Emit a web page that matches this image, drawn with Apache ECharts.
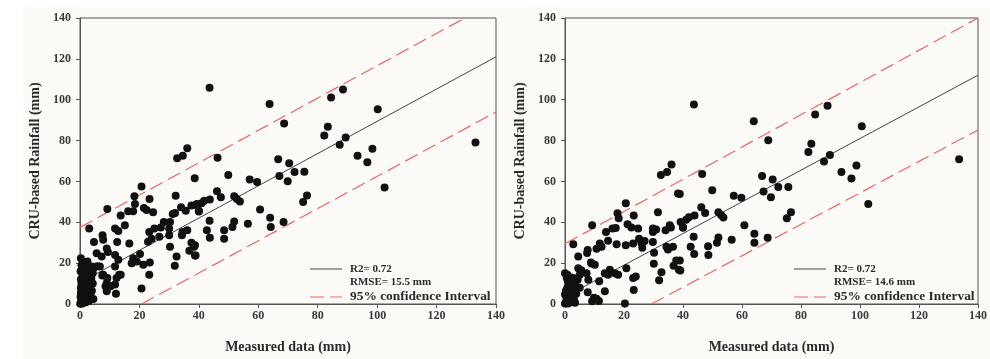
<!DOCTYPE html>
<html>
<head>
<meta charset="utf-8">
<script src="https://cdn.jsdelivr.net/npm/echarts@6/dist/echarts.min.js"></script>
<style>
  html, body { margin: 0; padding: 0; background: #fff; }
  #chart { width: 990px; height: 359px; }
</style>
</head>
<body>
<div id="chart"></div>
<script>
// measured vs CRU-based rainfall, two panels
const axisMin = 0, axisMax = 140, axisStep = 20;
const xTitle = "Measured data (mm)";
const yTitle = "CRU-based Rainfall (mm)";

const leftPoints = [
  [43.6,105.8],[63.8,97.9],[68.7,88.4],[88.5,105.0],[84.5,101.1],[100.2,95.3],[83.4,86.8],[82.2,82.5],
  [89.4,81.5],[87.4,77.9],[133.1,79.1],[98.4,76.0],[93.4,72.6],[96.7,69.4],[102.5,57.0],
  [32.7,71.3],[34.6,72.6],[36.1,76.3],[46.3,71.6],[38.6,61.5],[66.7,70.9],[70.4,68.9],[49.9,63.1],
  [72.2,64.6],[75.5,64.7],[67.1,62.6],[57.1,60.9],[59.6,59.7],[69.9,60.1],[46.1,55.2],[47.4,52.3],
  [51.9,52.8],[52.8,51.4],[53.8,50.2],[43.7,51.1],[41.8,50.6],[40.9,49.3],[39.2,48.3],[40.0,45.3],
  [76.4,53.1],[75.1,49.9],[60.6,46.2],[43.6,40.7],[64.0,42.2],[68.5,40.1],[51.9,40.4],[51.3,37.7],
  [56.5,39.3],[42.7,36.1],[48.5,36.1],[64.2,37.7],[43.7,32.4],[48.5,31.9],[38.7,28.8],[38.9,23.8],
  [20.7,57.5],[18.3,52.7],[23.4,51.4],[18.5,48.9],[21.5,47.0],[22.4,46.0],[16.2,45.4],[17.9,45.4],
  [24.6,44.9],[9.2,46.5],[13.7,43.3],[15.1,38.5],[3.1,36.9],[11.8,36.9],[12.9,35.7],[7.6,33.7],
  [7.8,31.5],[16.6,29.6],[12.5,30.4],[9.0,27.2],[9.4,25.5],[4.7,30.4],[5.6,24.8],[7.3,23.2],
  [11.8,24.0],[12.9,21.6],[17.9,22.4],[19.1,20.8],[17.4,20.0],[20.2,24.5],[21.3,19.2],[0.3,22.4],
  [2.5,20.8],[3.9,18.4],[6.7,18.4],[4.3,15.1],[7.8,14.3],[11.8,18.4],[12.3,12.7],[13.2,14.3],
  [9.0,10.3],[9.0,6.3],[11.8,9.5],[12.1,5.0],[20.7,7.6],[23.5,20.3],[23.3,14.3],
  [25.0,36.9],[28.2,40.1],[27.2,37.5],[26.7,32.9],[23.3,35.3],[24.1,32.0],[22.9,30.5],[30.3,40.1],
  [30.0,36.9],[31.2,44.1],[32.0,44.5],[30.3,28.0],[30.0,33.7],[32.2,53.0],[32.5,23.2],[31.9,18.7],
  [34.0,47.3],[34.5,35.3],[34.3,33.6],[35.6,45.7],[36.1,36.1],[37.5,48.2],[38.4,28.0],[37.5,30.0],
  [36.8,26.1],[38.7,23.7],[39.3,48.9],[40.0,45.7],
  [0.5,19],[0.2,16],[0.8,13.5],[0.3,12],[1,11],[1.5,12.5],[0.5,10],[1.2,9],[0.3,8],[2,8.5],
  [0.8,7],[1.5,6],[0.3,5.5],[2.5,6],[1,4.5],[0.2,3.5],[1.8,3.5],[0.6,2.5],[2.5,3],[1.2,1.5],
  [0.3,1],[0.8,0.3],[2,0.8],[3,1.5],[3.5,4.5],[4,6.5],[3,9.5],[2.5,11],[3.8,12.5],[2.8,14],
  [4.3,10],[3.5,17],[1.8,17.5],[2.2,20],[4.5,2.5],[1.5,15],[0.9,18],[3.2,7.5],[0.1,0.1],
  [5.8,18.5],[7.5,13.9],[9.2,12.7],[8.6,8.7],[10.3,8.7],[13.7,14.3],[4.5,17.5]
];

const rightPoints = [
  [43.7,97.7],[64.0,89.5],[68.9,80.2],[89.0,97.0],[84.8,92.8],[100.6,87.0],[83.5,78.4],[82.5,74.4],
  [89.8,72.9],[87.8,69.7],[133.6,70.9],[98.8,67.8],[93.7,64.6],[97.1,61.4],[102.8,48.9],
  [32.5,63.1],[34.6,64.6],[36.1,68.3],[46.5,63.6],[38.9,53.8],[66.8,62.6],[70.4,61.0],[49.9,55.7],
  [72.3,57.3],[75.7,57.3],[67.3,55.1],[57.2,53.0],[59.8,52.0],[69.8,52.2],[46.2,47.3],[47.5,44.6],
  [52.0,44.9],[52.9,43.6],[53.7,42.3],[43.9,43.3],[42.0,42.5],[41.1,41.2],[39.2,40.1],[40.0,37.3],
  [76.6,44.9],[75.2,42.0],[60.8,38.5],[43.6,32.9],[64.2,34.4],[68.7,32.4],[52.0,32.5],[51.5,30.0],
  [56.5,31.4],[42.6,28.0],[48.5,28.3],[64.2,30.0],[43.8,24.5],[48.6,24.0],[38.9,21.3],[39.1,16.4],
  [20.6,49.3],[17.8,44.4],[9.2,38.5],[23.3,43.3],[18.2,42.0],[21.2,39.0],[22.5,37.5],[24.8,36.9],
  [13.9,35.3],[16.1,36.9],[17.2,37.2],[2.8,29.3],[11.8,29.6],[12.4,28.0],[10.7,27.0],[14.6,31.0],
  [7.7,26.4],[7.5,25.0],[4.5,23.2],[17.5,29.3],[20.6,28.8],[23.1,29.6],[25.1,32.0],[27.0,30.9],
  [25.9,30.0],[26.2,27.5],[29.8,30.4],[29.8,35.3],[30.9,36.5],[31.5,44.9],[29.8,37.0],[30.2,25.1],
  [30.1,19.7],[32.7,15.5],[31.9,11.6],[34.1,36.1],[35.5,38.5],[35.9,37.4],[34.4,28.0],[34.9,26.7],
  [36.6,28.0],[38.3,54.1],[37.7,21.3],[36.8,18.7],[38.6,16.8],[40.0,37.7],
  [15.2,16.8],[14.6,14.3],[13.5,15.1],[11.6,11.1],[13.5,6.3],[10.7,2.6],[11.5,1.5],[9.2,1.3],
  [9.8,3.0],[20.3,0.2],[23.3,6.8],[23.1,12.7],[24.0,13.5],[20.8,17.5],[18.0,14.3],[16.9,15.0],
  [10.1,19.2],[9.0,19.8],[8.8,20.3],[7.3,15.1],[7.9,11.9],[4.5,17.5],[5.5,16.5],[5.0,14.3],
  [7.7,5.8],[4.3,11.9],[3.9,8.4],[3.4,0.6],[5.0,8.0],
  [0,15.1],[0.6,12.7],[0,4.7],[0,0.3],[1,11],[1.5,9],[0.8,8],[2.2,10.5],[1.2,6],[2.5,7],
  [0.5,2.5],[1.8,3],[2.8,4.5],[1.2,1.2],[2.2,0.8],[3.0,2.5],[0.3,6.5],[2.0,13],[3.2,12.5],
  [1.0,0.3],[3.8,5.0],[0.8,14.3],[2.8,12.6]
];

// fitted line and 95% band, end points
const leftFit = [[0, 10.5], [140, 121]];
const leftUpper = [[0, 37.5], [129.5, 140]];
const leftLower = [[20.7, 0], [140, 94]];
const rightFit = [[0, 3.5], [140, 112]];
const rightUpper = [[0, 29.5], [140, 140]];
const rightLower = [[29.3, 0], [140, 85.2]];

const leftStats = ["R2= 0.72", "RMSE= 15.5 mm"];
const rightStats = ["R2= 0.72", "RMSE= 14.6 mm"];
const bandLabel = "95% confidence Interval";

const serif = "Liberation Serif";
const red = "#ee6464";

function xAxisFor(i) {
  return {
    gridIndex: i, type: "value", min: axisMin, max: axisMax, interval: axisStep,
    name: xTitle, nameLocation: "middle", nameGap: 36,
    nameTextStyle: {fontFamily: serif, fontWeight: "bold", fontSize: 14, color: "#2a2a2a"},
    axisLine: {show: true, lineStyle: {color: "#555", width: 1}},
    axisTick: {show: true, length: 4, lineStyle: {color: "#555"}},
    axisLabel: {margin: 6, fontFamily: serif, fontWeight: "bold", fontSize: 12, color: "#3a3a3a"},
    splitLine: {show: false}
  };
}

function yAxisFor(i) {
  return {
    gridIndex: i, type: "value", min: axisMin, max: axisMax, interval: axisStep,
    name: yTitle, nameLocation: "middle", nameGap: 38, nameRotate: 90,
    nameTextStyle: {fontFamily: serif, fontWeight: "bold", fontSize: 14, color: "#2a2a2a"},
    axisLine: {show: true, lineStyle: {color: "#555", width: 1}},
    axisTick: {show: true, length: 4, lineStyle: {color: "#555"}},
    axisLabel: {margin: 9, fontFamily: serif, fontWeight: "bold", fontSize: 12, color: "#3a3a3a"},
    splitLine: {show: false}
  };
}

function lineSeries(i, data, color, dashed, width) {
  return {
    type: "line", xAxisIndex: i, yAxisIndex: i, data: data,
    showSymbol: false, silent: true, z: 3,
    lineStyle: {color: color, width: width, type: dashed ? [14, 6] : "solid"}
  };
}

function legendGraphics(x0, stats) {
  const txt = {fontFamily: serif, fontWeight: "bold", fill: "#2a2a2a"};
  return [
    {type: "line", shape: {x1: x0, y1: 269, x2: x0 + 32, y2: 269}, style: {stroke: "#444", lineWidth: 1}},
    {type: "text", x: x0 + 40, y: 269, style: Object.assign({text: stats[0], fontSize: 11, verticalAlign: "middle"}, txt)},
    {type: "text", x: x0 + 40, y: 282, style: Object.assign({text: stats[1], fontSize: 11, verticalAlign: "middle"}, txt)},
    {type: "line", shape: {x1: x0, y1: 297, x2: x0 + 32, y2: 297}, style: {stroke: red, lineWidth: 1.2, lineDash: [14, 6]}},
    {type: "text", x: x0 + 40, y: 297, style: Object.assign({text: bandLabel, fontSize: 13.4, verticalAlign: "middle"}, txt)}
  ];
}

const chart = echarts.init(document.getElementById("chart"));
chart.setOption({
  animation: false,
  backgroundColor: "#fff",
  graphic: [
    {type: "rect", z: -10, shape: {x: 23, y: 7, width: 967, height: 352}, style: {fill: "#fbfaf7"}}
  ].concat(legendGraphics(310, leftStats), legendGraphics(794, rightStats)),
  grid: [
    {left: 80, top: 18, width: 416, height: 290, show: true, borderColor: "#555", borderWidth: 1, backgroundColor: "transparent"},
    {left: 565, top: 18, width: 415, height: 290, show: true, borderColor: "#555", borderWidth: 1, backgroundColor: "transparent"}
  ],
  xAxis: [xAxisFor(0), xAxisFor(1)],
  yAxis: [yAxisFor(0), yAxisFor(1)],
  series: [
    {type: "scatter", xAxisIndex: 0, yAxisIndex: 0, data: leftPoints, symbolSize: 8, itemStyle: {color: "#111", opacity: 1}, z: 4},
    {type: "scatter", xAxisIndex: 1, yAxisIndex: 1, data: rightPoints, symbolSize: 8, itemStyle: {color: "#111", opacity: 1}, z: 4},
    lineSeries(0, leftFit, "#444", false, 1),
    lineSeries(0, leftUpper, red, true, 1.2),
    lineSeries(0, leftLower, red, true, 1.2),
    lineSeries(1, rightFit, "#444", false, 1),
    lineSeries(1, rightUpper, red, true, 1.2),
    lineSeries(1, rightLower, red, true, 1.2)
  ]
});
</script>
</body>
</html>
